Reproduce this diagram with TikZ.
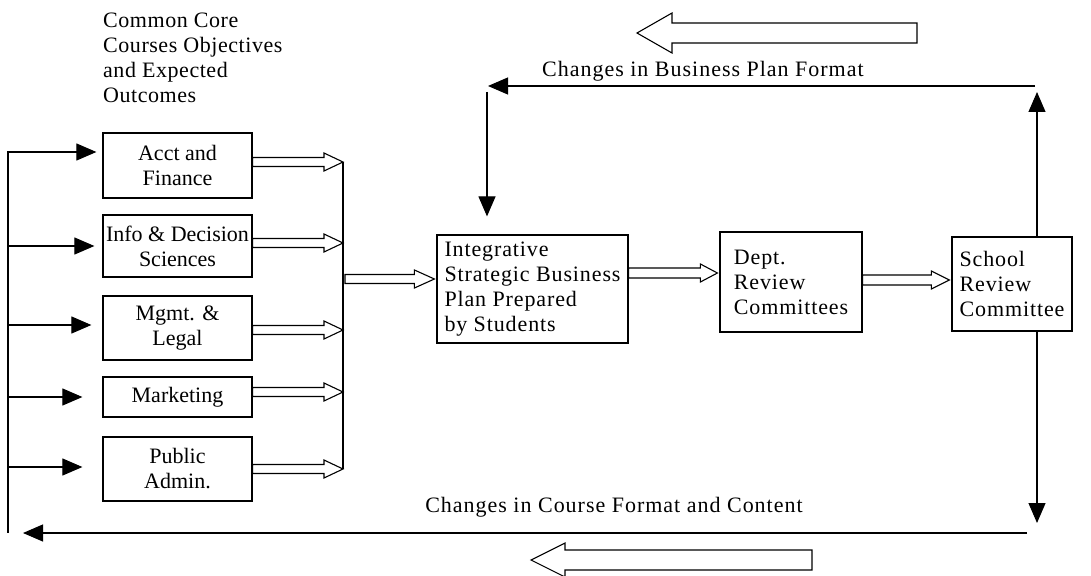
\documentclass[tikz,border=0pt]{standalone}
\usepackage{fontspec}
\setmainfont{Liberation Serif}
\usetikzlibrary{arrows.meta,calc}

% open double-lined arrow: start, tip, shaft half, head half, head length (signed)
\newcommand{\hollowarrow}[5]{%
	\draw[fat] let \p1=(#1), \p2=(#2) in
		(\x1,{\y1-#3}) -- ({\x2-(#5)},{\y1-#3}) -- ({\x2-(#5)},{\y1-#4})
		-- (\x2,\y1) -- ({\x2-(#5)},{\y1+#4}) -- ({\x2-(#5)},{\y1+#3})
		-- (\x1,{\y1+#3}) -- cycle;}

\begin{document}
\begin{tikzpicture}[x=1pt,y=-1pt,
		font=\fontsize{22}{25}\selectfont,
		box/.style={draw,line width=1.2pt,inner sep=0pt,align=center},
		wide/.style={font=\fontsize{22}{25}\selectfont\addfontfeatures{LetterSpace=#1}},
		feed/.style={line width=1.1pt,-{Triangle[length=20pt,width=17pt]}},
		fat/.style={line width=1.1pt},
		lbl/.style={inner sep=0pt}]
	\useasboundingbox (0,0) rectangle (1091,575);
	% course boxes
	\node[lbl,wide=2.5,anchor=north west,align=left] (core) at (103,13) {Common Core\\Courses Objectives\\and Expected\\Outcomes};
	\node[box,minimum width=149pt,minimum height=65pt] (acct) at (177.5,165.5) {Acct and\\Finance};
	\node[box,minimum width=149pt,minimum height=62pt] (info) at (177.5,246) {Info \& Decision\\Sciences};
	\node[box,minimum width=149pt,minimum height=64pt] (mgmt) at (177.5,328) {Mgmt. \&\\Legal};
	\node[box,minimum width=149pt,minimum height=40pt] (mkt) at (177.5,397) {Marketing};
	\node[box,minimum width=149pt,minimum height=64pt] (pub) at (177.5,469) {Public\\Admin.};
	% review chain
	\node[box,wide=4,align=left,minimum width=191pt,minimum height=108pt] (integ) at (532.5,289) {Integrative\\Strategic Business\\Plan Prepared\\by Students};
	\node[box,wide=4,align=left,minimum width=142pt,minimum height=100pt] (dept) at (791,282) {Dept.\\Review\\Committees};
	\node[box,wide=4,align=left,minimum width=120pt,minimum height=94pt] (school) at (1012,284) {School\\Review\\Committee};
	\node[lbl,wide=4.5,anchor=base west] (bpf) at (542,77) {Changes in Business Plan Format};
	\node[lbl,wide=4.5,anchor=base] (cfc) at (614,512) {Changes in Course Format and Content};

	\coordinate (bus) at (343,0);
	\coordinate (spine) at (8,152);
	\coordinate (tl) at (487,86);
	\coordinate (tr) at (1037,86);
	\coordinate (bl) at (8,533);
	\coordinate (br) at (1037,533);
	\coordinate (topend) at (917,33);
	\coordinate (toptip) at (637,33);
	\coordinate (botend) at (812,560);
	\coordinate (bottip) at (531,560);

	% feed from the left
	\draw[fat] (spine) -- (bl);
	\draw[feed] ($(acct.west)+(-95,-13.5)$) -- ($(acct.west)+(-6,-13.5)$);
	\draw[feed] ($(info.west)+(-95,0)$) -- ($(info.west)+(-8,0)$);
	\draw[feed] ($(mgmt.west)+(-95,-3)$) -- ($(mgmt.west)+(-11,-3)$);
	\draw[feed] ($(mkt.west)+(-95,0)$) -- ($(mkt.west)+(-20,0)$);
	\draw[feed] ($(pub.west)+(-95,-2)$) -- ($(pub.west)+(-20,-2)$);

	% into the collector
	\hollowarrow{$(acct.east)+(0,-3.5)$}{bus}{4.5pt}{9pt}{19pt}
	\hollowarrow{$(info.east)+(0,-3)$}{bus}{4.5pt}{9pt}{19pt}
	\hollowarrow{$(mgmt.east)+(0,2)$}{bus}{4.5pt}{9pt}{19pt}
	\hollowarrow{$(mkt.east)+(0,-5)$}{bus}{4.5pt}{9pt}{19pt}
	\hollowarrow{$(pub.east)$}{bus}{4.5pt}{9pt}{19pt}
	\draw[fat] ($(acct.east -| bus)+(0,-3.5)$) -- (pub.east -| bus);

	\hollowarrow{$(integ.west -| bus)+(2,-10)$}{$(integ.west)+(-2,0)$}{4.5pt}{9pt}{20pt}
	\hollowarrow{$(integ.east)+(0,-16)$}{$(dept.west)+(-2,0)$}{5pt}{9pt}{17pt}
	\hollowarrow{$(dept.east)+(0,-2)$}{$(school.west)+(-2,0)$}{5pt}{9pt}{18pt}

	% feedback loops
	\draw[feed] (school.north -| tr) -- ($(tr)+(0,6)$);
	\draw[feed] ($(tr)+(-2,0)$) -- ($(tl)+(1,0)$);
	\draw[feed] ($(tl)+(0,6)$) -- ($(integ.north -| tl)+(0,-18)$);
	\draw[feed] (school.south -| br) -- ($(br)+(0,-10)$);
	\draw[feed] ($(br)+(-10,0)$) -- ($(bl)+(15,0)$);

	\hollowarrow{topend}{toptip}{10pt}{20pt}{-35pt}
	\hollowarrow{botend}{bottip}{10pt}{17pt}{-34pt}
\end{tikzpicture}
\end{document}
